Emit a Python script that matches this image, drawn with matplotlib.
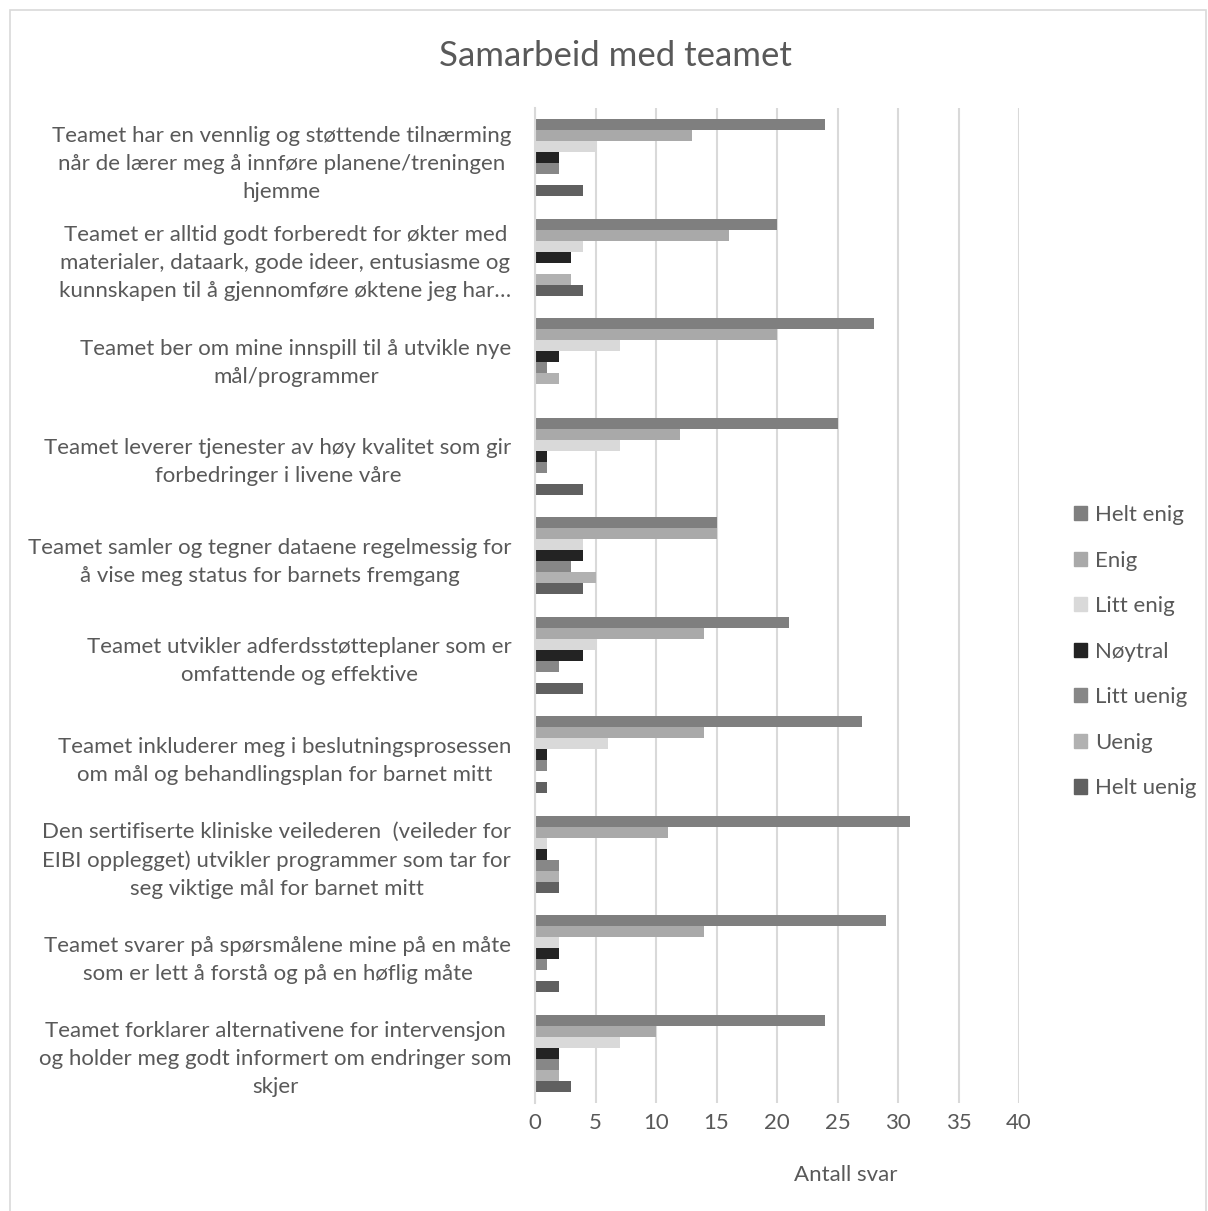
import numpy as np
import matplotlib
matplotlib.use("Agg")
import matplotlib.pyplot as plt
from matplotlib.patches import Rectangle, Patch

plt.rcParams["font.family"] = ["Lato", "DejaVu Sans"]

TEXT = "#595959"
GRID = "#d9d9d9"

questions = [
    "Teamet har en vennlig og støttende tilnærming\nnår de lærer meg å innføre planene/treningen\nhjemme",
    "Teamet er alltid godt forberedt for økter med\nmaterialer, dataark, gode ideer, entusiasme og\nkunnskapen til å gjennomføre øktene jeg har…",
    "Teamet ber om mine innspill til å utvikle nye\nmål/programmer",
    "Teamet leverer tjenester av høy kvalitet som gir\nforbedringer i livene våre",
    "Teamet samler og tegner dataene regelmessig for\nå vise meg status for barnets fremgang",
    "Teamet utvikler adferdsstøtteplaner som er\nomfattende og effektive",
    "Teamet inkluderer meg i beslutningsprosessen\nom mål og behandlingsplan for barnet mitt",
    "Den sertifiserte kliniske veilederen  (veileder for\nEIBI opplegget) utvikler programmer som tar for\nseg viktige mål for barnet mitt",
    "Teamet svarer på spørsmålene mine på en måte\nsom er lett å forstå og på en høflig måte",
    "Teamet forklarer alternativene for intervensjon\nog holder meg godt informert om endringer som\nskjer",
]

# answer counts per question, same order as above
helt_enig  = [24, 20, 28, 25, 15, 21, 27, 31, 29, 24]
enig       = [13, 16, 20, 12, 15, 14, 14, 11, 14, 10]
litt_enig  = [5, 4, 7, 7, 4, 5, 6, 1, 2, 7]
noytral    = [2, 3, 2, 1, 4, 4, 1, 1, 2, 2]
litt_uenig = [2, 0, 1, 1, 3, 2, 1, 2, 1, 2]
uenig      = [0, 3, 2, 0, 5, 0, 0, 2, 0, 2]
helt_uenig = [4, 4, 0, 4, 4, 4, 1, 2, 2, 3]

series = [
    ("Helt enig", helt_enig, "#7f7f7f"),
    ("Enig", enig, "#a9a9a9"),
    ("Litt enig", litt_enig, "#d9d9d9"),
    ("Nøytral", noytral, "#232323"),
    ("Litt uenig", litt_uenig, "#878787"),
    ("Uenig", uenig, "#b1b1b1"),
    ("Helt uenig", helt_uenig, "#606060"),
]

FS = 16

W, H = 1208, 1211
fig = plt.figure(figsize=(W / 100, H / 100), dpi=100)
fig.patches.append(Rectangle((10 / W, -0.01), (1206 - 10) / W, 1.0 - 10 / H + 0.01,
                             transform=fig.transFigure, fill=False,
                             edgecolor=GRID, linewidth=1.2))

ax = fig.add_axes([535 / W, 1 - 1103 / H, (1019 - 535) / W, (1103 - 108) / H])

n = len(series)
h = 1.0 / (n + 2.05)
y = np.arange(len(questions))
for j, (name, vals, col) in enumerate(series):
    ax.barh(y + (j - (n - 1) / 2) * h, vals, height=h, color=col,
            label=name, zorder=3)

ax.set_xlim(0, 40)
ax.set_ylim(len(questions) - 0.5, -0.5)
ax.set_xticks(np.arange(0, 41, 5))
ax.set_yticks(y)
ax.set_yticklabels(questions, multialignment="center", linespacing=1.5)
ax.tick_params(axis="y", length=0, pad=17, labelsize=FS, labelcolor=TEXT)
ax.tick_params(axis="x", length=0, pad=7, labelsize=FS, labelcolor=TEXT)
ax.grid(axis="x", color=GRID, linewidth=1.5, zorder=0)
for s in ("top", "right", "bottom"):
    ax.spines[s].set_visible(False)
ax.spines["left"].set_color(GRID)
ax.spines["left"].set_linewidth(1.5)
ax.spines["left"].set_zorder(4)

fig.text(615 / W, 1 - 56 / H, "Samarbeid med teamet", ha="center", va="center",
         fontsize=25, color=TEXT)
fig.text(846 / W, 1 - 1175 / H, "Antall svar", ha="center", va="center",
         fontsize=FS, color=TEXT)

handles = [Patch(color=c, label=nm) for nm, _, c in series]
fig.legend(handles=handles, loc="upper left", bbox_to_anchor=(1074 / W, 1 - 505 / H),
           frameon=False, fontsize=FS, labelcolor=TEXT, handlelength=0.6,
           handleheight=0.6, handletextpad=0.35, labelspacing=1.15,
           borderpad=0, borderaxespad=0)

fig.savefig("out.png", dpi=100)
